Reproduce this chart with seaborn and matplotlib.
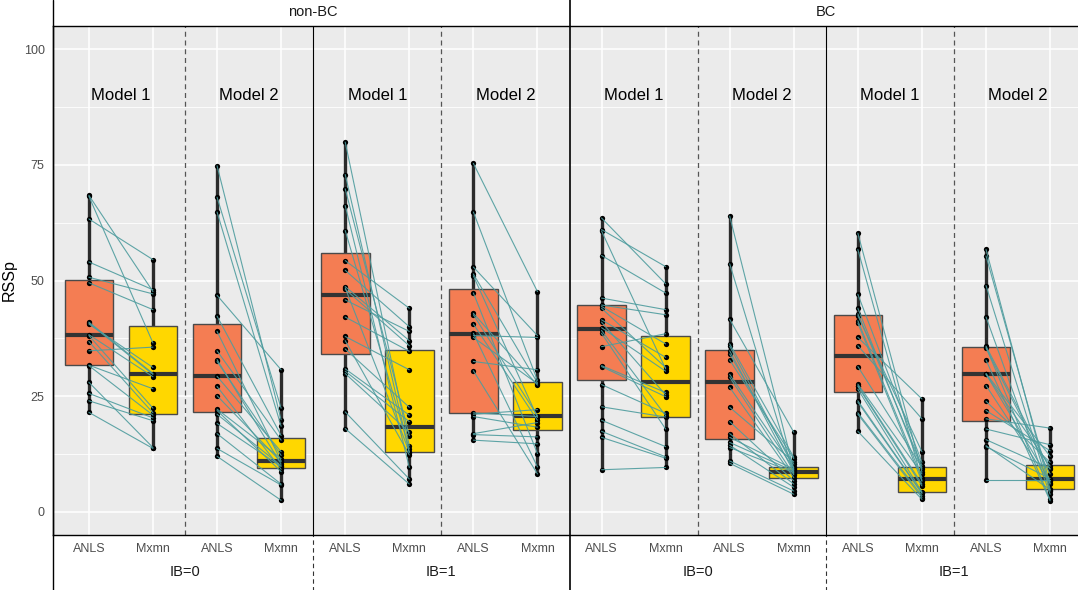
import numpy as np
import pandas as pd
import matplotlib
matplotlib.use("Agg")
import matplotlib.pyplot as plt
from matplotlib.ticker import MultipleLocator
import seaborn as sns

# values, paired by subject (ANLS[i] <-> Mxmn[i])
NBC_IB0_M1_ANLS = [68.4, 68.2, 63.3, 54.0, 50.7, 49.5, 41.0, 40.8, 40.6, 38.3, 38.1, 36.8, 34.8, 31.7, 31.6, 28.0, 25.6, 24.0, 21.5]
NBC_IB0_M1_MXMN = [47.6, 36.5, 54.5, 48.0, 47.1, 43.7, 29.9, 29.7, 31.2, 29.2, 22.4, 21.4, 35.6, 26.6, 20.9, 13.9, 20.3, 19.7, 13.7]

NBC_IB0_M2_ANLS = [74.8, 68.0, 64.8, 46.8, 42.3, 39.0, 34.8, 32.9, 32.5, 29.3, 27.1, 25.1, 22.2, 21.9, 21.1, 19.1, 16.9, 13.7, 12.0]
NBC_IB0_M2_MXMN = [19.9, 22.4, 18.5, 30.7, 16.5, 11.0, 15.5, 10.3, 12.2, 13.0, 9.2, 10.8, 11.5, 8.7, 10.0, 9.8, 6.0, 5.8, 2.5]

NBC_IB1_M1_ANLS = [79.9, 72.9, 69.8, 66.2, 60.8, 54.3, 52.2, 48.7, 48.4, 48.1, 45.8, 42.1, 37.9, 37.0, 35.2, 30.9, 30.4, 29.9, 21.6, 18.0]
NBC_IB1_M1_MXMN = [14.3, 12.8, 16.5, 9.6, 13.6, 44.0, 40.0, 37.0, 13.0, 35.9, 39.0, 34.7, 30.7, 12.3, 22.6, 20.9, 19.5, 17.2, 7.1, 6.0]

NBC_IB1_M2_ANLS = [75.3, 64.8, 52.9, 51.4, 51.0, 47.3, 42.9, 42.6, 40.6, 38.6, 38.1, 37.7, 32.5, 30.5, 21.4, 21.1, 20.6, 16.9, 16.7, 15.5]
NBC_IB1_M2_MXMN = [47.6, 28.4, 38.1, 27.9, 20.4, 12.6, 27.4, 20.8, 19.8, 9.7, 37.7, 27.7, 30.7, 8.2, 20.6, 22.1, 18.3, 19.3, 16.2, 14.7]

BC_IB0_M1_ANLS = [63.5, 61.0, 60.7, 55.4, 46.2, 44.7, 44.4, 44.0, 41.5, 41.0, 39.8, 39.2, 38.6, 35.7, 31.6, 31.4, 27.5, 22.7, 19.8, 17.4, 16.1, 9.1]
BC_IB0_M1_MXMN = [49.3, 53.0, 30.9, 47.3, 43.7, 42.6, 36.3, 31.2, 33.4, 25.3, 30.4, 20.8, 17.9, 38.5, 25.8, 24.9, 21.3, 20.5, 14.1, 11.9, 11.6, 9.6]

BC_IB0_M2_ANLS = [63.9, 53.6, 41.6, 36.3, 35.8, 34.8, 34.1, 32.8, 29.7, 29.1, 26.9, 22.6, 19.5, 16.9, 16.1, 15.0, 14.4, 13.9, 11.0, 10.5]
BC_IB0_M2_MXMN = [9.0, 8.2, 17.2, 11.8, 9.6, 8.6, 10.3, 11.5, 9.4, 8.0, 7.4, 10.8, 6.7, 6.0, 9.2, 8.8, 5.3, 8.5, 4.5, 3.8]

BC_IB1_M1_ANLS = [60.2, 56.7, 47.0, 44.0, 42.8, 42.4, 41.3, 40.8, 37.7, 35.9, 31.4, 27.6, 27.3, 27.1, 26.5, 24.0, 23.7, 21.4, 21.1, 17.4]
BC_IB1_M1_MXMN = [8.6, 6.8, 10.7, 9.2, 10.0, 13.0, 7.4, 6.6, 24.4, 20.1, 9.6, 8.2, 6.0, 5.6, 4.3, 4.1, 4.0, 3.5, 3.1, 2.7]

BC_IB1_M2_ANLS = [56.7, 55.3, 48.9, 42.1, 35.8, 35.6, 35.4, 32.8, 29.9, 29.8, 29.7, 27.3, 23.9, 21.9, 20.1, 17.9, 15.6, 14.3, 14.1, 6.9]
BC_IB1_M2_MXMN = [4.9, 6.0, 4.5, 3.8, 9.2, 2.7, 8.2, 2.4, 12.0, 6.6, 9.9, 6.2, 10.7, 13.2, 18.1, 14.5, 9.4, 4.8, 7.2, 6.9]

PANELS = [
    (NBC_IB0_M1_ANLS, NBC_IB0_M1_MXMN),
    (NBC_IB0_M2_ANLS, NBC_IB0_M2_MXMN),
    (NBC_IB1_M1_ANLS, NBC_IB1_M1_MXMN),
    (NBC_IB1_M2_ANLS, NBC_IB1_M2_MXMN),
    (BC_IB0_M1_ANLS, BC_IB0_M1_MXMN),
    (BC_IB0_M2_ANLS, BC_IB0_M2_MXMN),
    (BC_IB1_M1_ANLS, BC_IB1_M1_MXMN),
    (BC_IB1_M2_ANLS, BC_IB1_M2_MXMN),
]
MODEL_LABELS = ["Model 1", "Model 2"] * 4
GROUP_LABELS = ["non-BC", "BC"]
IB_LABELS = ["IB=0", "IB=1", "IB=0", "IB=1"]
METHODS = ["ANLS", "Mxmn"]

COLORS = {"ANLS": "#F47D53", "Mxmn": "#FFD700"}
LINE_COLOR = "#4E9C9E"

# long table: each panel uses two slots on a shared x axis
rows = []
for i, (anls, mxmn) in enumerate(PANELS):
    for v in anls:
        rows.append({"pos": 2 * i + 1, "RSSp": v, "method": "ANLS"})
    for v in mxmn:
        rows.append({"pos": 2 * i + 2, "RSSp": v, "method": "Mxmn"})
df = pd.DataFrame(rows)

sns.set_theme(style="darkgrid", rc={"axes.facecolor": "#EBEBEB", "grid.color": "white"})
plt.rcParams["font.family"] = ["Liberation Sans", "DejaVu Sans"]

fig = plt.figure(figsize=(10.78, 5.90), dpi=100)
ax = fig.add_axes([53 / 1078, 1 - 535 / 590, (1086 - 53) / 1078, (535 - 26) / 590])

sns.boxplot(data=df, x="pos", y="RSSp", hue="method", native_scale=True, dodge=False,
            width=0.76, whis=(0, 100), showcaps=False, showfliers=False, saturation=1,
            palette=COLORS, linecolor="#4a4a4a", linewidth=1.0, legend=False,
            boxprops={"zorder": 2},
            whiskerprops={"linewidth": 2.4, "color": "#2b2b2b", "zorder": 1.8},
            medianprops={"linewidth": 3, "color": "#333333", "zorder": 2.2},
            ax=ax)

sns.stripplot(data=df, x="pos", y="RSSp", native_scale=True, jitter=False,
              color="black", size=3.8, linewidth=0, zorder=3, ax=ax)

# paired lines between ANLS and Mxmn
for i, (anls, mxmn) in enumerate(PANELS):
    for a, m in zip(anls, mxmn):
        ax.plot([2 * i + 1, 2 * i + 2], [a, m], color=LINE_COLOR, lw=0.8, alpha=0.9, zorder=4)

ax.set_xlim(0.44, 16.56)
ax.set_ylim(-5, 105)
ax.set_xticks(range(1, 17))
ax.set_xticklabels(METHODS * 8)
ax.set_yticks([0, 25, 50, 75, 100])
ax.yaxis.set_minor_locator(MultipleLocator(12.5))
ax.grid(which="major", color="white", lw=1.1)
ax.grid(which="minor", axis="y", color="white", lw=0.6)
ax.tick_params(axis="both", which="major", length=3, width=0.8, color="#333333",
               labelsize=9, labelcolor="#4D4D4D", pad=3)
ax.tick_params(axis="y", which="minor", length=0)
ax.set_xlabel("")
ax.set_ylabel("RSSp", fontsize=11.5, color="black")
ax.yaxis.set_label_coords(-36 / 1033, 0.5)

for side in ["left", "bottom", "top"]:
    ax.spines[side].set_visible(True)
    ax.spines[side].set_color("black")
    ax.spines[side].set_linewidth(1.0)
ax.spines["right"].set_visible(False)

# separators
for x in [2.5, 6.5, 10.5, 14.5]:
    ax.axvline(x, color="#555555", lw=0.9, ls=(0, (4, 3)), zorder=1.5)
for x in [4.5, 12.5]:
    ax.axvline(x, color="black", lw=0.8, zorder=1.5)
    ax.axvline(x, ymin=-0.11, ymax=0, color="#333333", lw=0.8, ls=(0, (4, 3)), clip_on=False)
ax.axvline(8.5, ymin=-0.11, ymax=1.052, color="black", lw=1.2, clip_on=False, zorder=5)
ax.axvline(0.44, ymin=-0.11, ymax=1.052, color="black", lw=1.0, clip_on=False, zorder=5)

for i, label in enumerate(MODEL_LABELS):
    ax.text(2 * i + 1.5, 90, label, ha="center", va="center", fontsize=12, color="black")

trans = ax.get_xaxis_transform()
for i, label in enumerate(GROUP_LABELS):
    ax.text(4.5 + 8 * i, 1.027, label, transform=trans, ha="center", va="center",
            fontsize=10.5, color="#1A1A1A")
for i, label in enumerate(IB_LABELS):
    ax.text(2.5 + 4 * i, -0.073, label, transform=trans, ha="center", va="center",
            fontsize=10.5, color="#1A1A1A")

fig.savefig("out.png", dpi=100, facecolor="white")
